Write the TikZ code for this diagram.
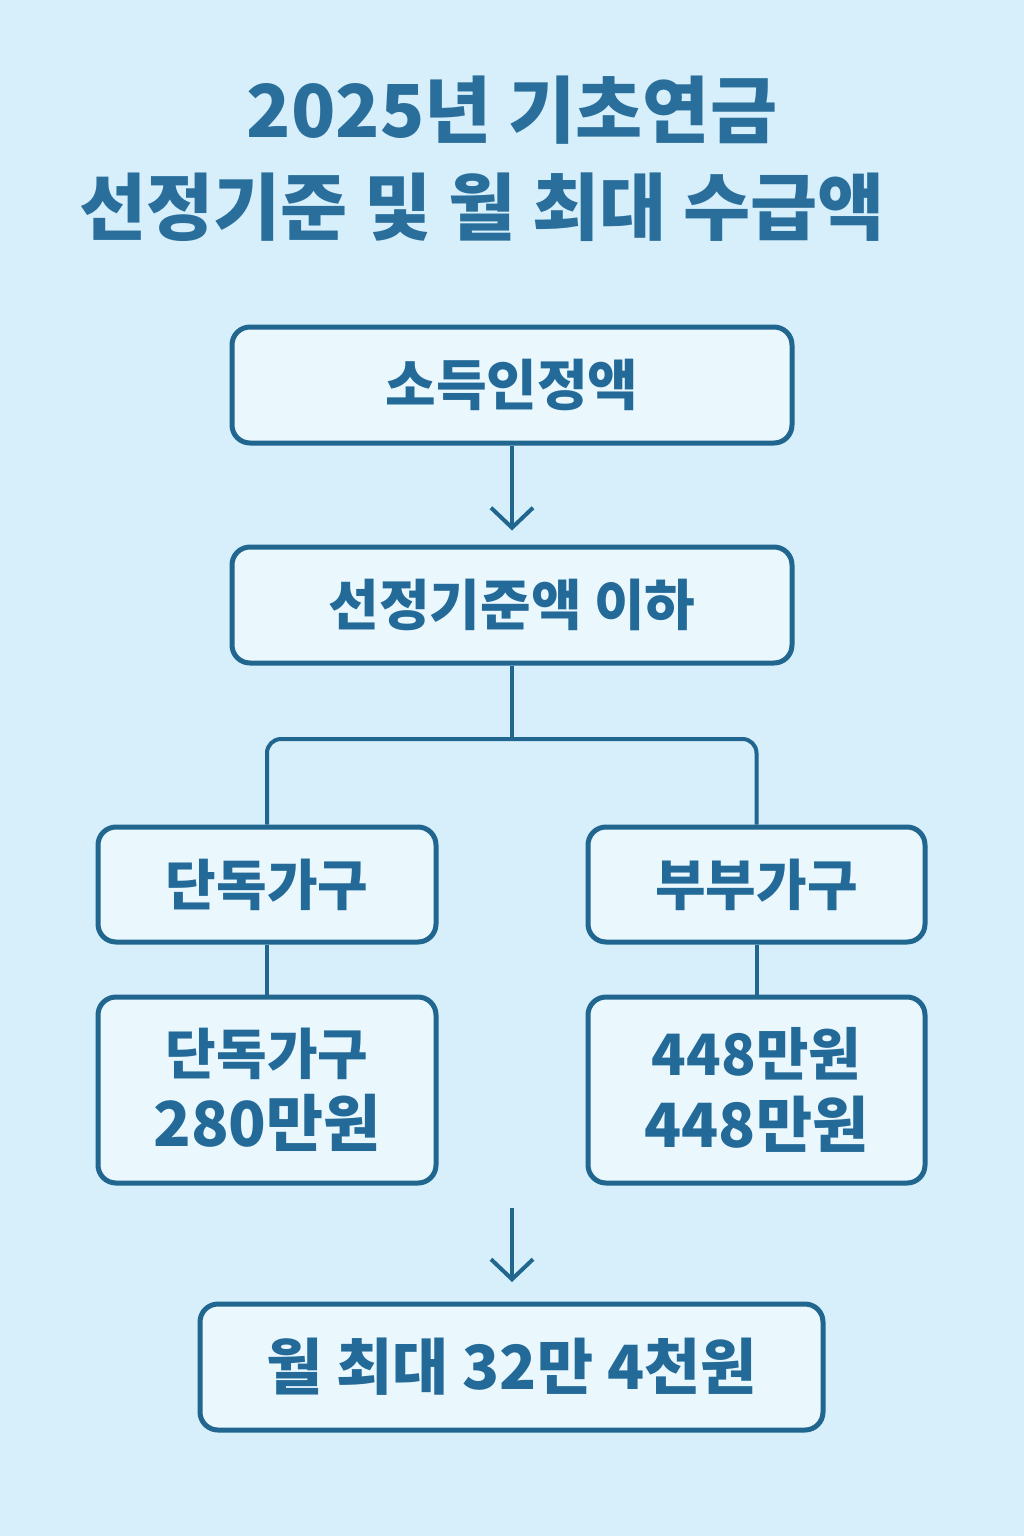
\documentclass[tikz,border=0pt]{standalone}
\usepackage{fontspec}
\setmainfont{Noto Sans CJK KR}
\usetikzlibrary{arrows.meta}
\definecolor{bg}{HTML}{D6EFFB}
\definecolor{boxfill}{HTML}{EAF8FE}
\definecolor{edge}{HTML}{20668F}
\definecolor{txt}{HTML}{236A98}
\definecolor{ttl}{HTML}{2A6F9C}
\newcommand{\fs}[1]{\fontsize{#1}{72}\selectfont}
\tikzset{
  box/.style={draw=edge, line width=5pt, fill=boxfill, rounded corners=18pt,
    minimum width=#1, inner sep=0pt, align=center, text=txt,
    font=\fs{55}\bfseries},
  conn/.style={draw=edge, line width=4pt},
  arr/.style={conn, -{Straight Barb[length=20pt,width=42pt,line width=4pt]}},
  ttlfont/.style={text=ttl, font=\fontsize{73}{95}\selectfont\bfseries}
}
\begin{document}
\begin{tikzpicture}[x=1pt,y=-1pt]
\fill[bg] (0,0) rectangle (1024,1536);
\useasboundingbox (0,0) rectangle (1024,1536);
\node[ttlfont] (t1) at (512,110) {2025년 기초연금};
\node[ttlfont] (t2) at (482,207) {선정기준 및 월 최대 수급액};

\node[box=560pt, minimum height=116pt] (b1) at (512,385) {소득인정액};
\node[box=560pt, minimum height=116pt] (b2) at (512,605) {선정기준액 이하};
\node[box=338pt, minimum height=115pt] (b3) at (267,884.5) {단독가구};
\node[box=337pt, minimum height=115pt] (b4) at (756.5,884.5) {부부가구};
\node[box=338pt, minimum height=186pt] (b5) at (267,1090) {단독가구\\{\fs{62}280만원}};
\node[box=337pt, minimum height=186pt] (b6) at (756.5,1090) {{\fs{57}448만원}\\{\fs{61}448만원}};
\node[box=623pt, minimum height=126pt, font=\fs{61}\bfseries] (b7) at (511.5,1367) {월 최대 32만 4천원};

\draw[arr] (b1.south) -- ([yshift=-85pt]b1.south);
\coordinate (split) at (512,739);
\draw[conn] (b2.south) -- (split);
\draw[conn, rounded corners=14pt] (split) -| (b3.north);
\draw[conn, rounded corners=14pt] (split) -| (b4.north);
\draw[conn] (b3.south) -- (b5.north);
\draw[conn] (b4.south) -- (b6.north);
\coordinate (a1) at (512,1208);
\coordinate (a2) at (512,1282);
\draw[arr] (a1) -- (a2);
\end{tikzpicture}
\end{document}
